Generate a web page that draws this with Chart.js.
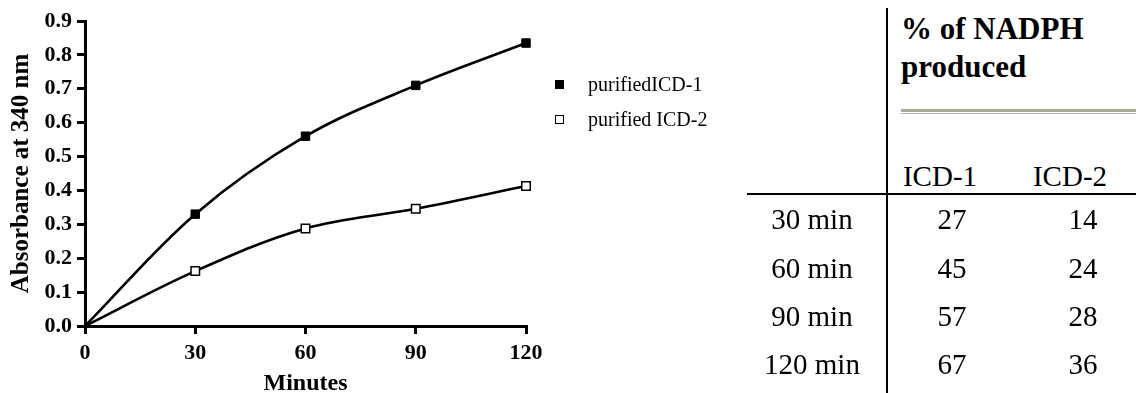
<!DOCTYPE html>
<html>
<head>
<meta charset="utf-8">
<script src="https://cdn.jsdelivr.net/npm/chart.js@4/dist/chart.umd.min.js"></script>
<style>
  html, body { margin: 0; padding: 0; background: #fff; }
  body { width: 1136px; height: 393px; position: relative; overflow: hidden;
         font-family: 'Times New Roman', 'Liberation Serif', serif; color: #000; }
  #chartBox { position: absolute; left: 0; top: 0; width: 740px; height: 393px; }
  .abs { position: absolute; white-space: nowrap; line-height: 1; }
  .mk { position: absolute; width: 9px; height: 9px; box-sizing: border-box; border: 1.5px solid #000; }
  .line { position: absolute; }
</style>
</head>
<body>
<div id="chartBox"><canvas id="c" width="740" height="393"></canvas></div>
<div id="legend"></div>
<div id="table"></div>
<script>
// ---- chart data ----
const minutes = [0, 30, 60, 90, 120];
const icd1Abs = [0, 0.33, 0.56, 0.71, 0.835];
const icd2Abs = [0, 0.162, 0.288, 0.346, 0.413];
const seriesNames = ['purifiedICD-1', 'purified ICD-2'];
const xTicks = [0, 30, 60, 90, 120];
const yTicks = [0, 0.1, 0.2, 0.3, 0.4, 0.5, 0.6, 0.7, 0.8, 0.9];

// ---- table data ----
const tableTitle = ['% of NADPH', 'produced'];
const tableCols = ['ICD-1', 'ICD-2'];
const tableRows = ['30 min', '60 min', '90 min', '120 min'];
const pctICD1 = [27, 45, 57, 67];
const pctICD2 = [14, 24, 28, 36];

const FONT = "'Times New Roman', 'Liberation Serif', serif";

const toXY = (ys) => minutes.map((m, i) => ({x: m, y: ys[i]}));
const radii = minutes.map(m => m === 0 ? 0 : 6);

new Chart(document.getElementById('c'), {
  type: 'line',
  data: {
    datasets: [
      { label: seriesNames[0], data: toXY(icd1Abs), borderColor: '#000', borderWidth: 2.6,
        tension: 0.35, pointStyle: 'rect', pointRadius: radii,
        pointBackgroundColor: '#000', pointBorderColor: '#000', pointBorderWidth: 1, clip: false },
      { label: seriesNames[1], data: toXY(icd2Abs), borderColor: '#000', borderWidth: 2.6,
        tension: 0.35, pointStyle: 'rect', pointRadius: radii,
        pointBackgroundColor: '#fff', pointBorderColor: '#000', pointBorderWidth: 1.5, clip: false }
    ]
  },
  options: {
    responsive: false, animation: false, devicePixelRatio: 1,
    layout: { padding: { left: 0, top: 21, right: 214, bottom: 0 } },
    plugins: { legend: { display: false }, tooltip: { enabled: false } },
    scales: {
      x: {
        type: 'linear', min: xTicks[0], max: xTicks[xTicks.length - 1],
        afterBuildTicks: s => { s.ticks = xTicks.map(v => ({value: v})); },
        afterFit: s => { s.height = 67; },
        ticks: { color: '#000', font: { family: FONT, size: 22, weight: 'bold' }, padding: 6, maxRotation: 0 },
        grid: { display: true, drawOnChartArea: false, drawTicks: true, tickLength: 8, lineWidth: 3, color: '#000' },
        border: { display: true, width: 3, color: '#000' },
        title: { display: true, text: 'Minutes', color: '#000',
                 font: { family: FONT, size: 24, weight: 'bold', lineHeight: 0.75 }, padding: { top: 0, bottom: 0 } }
      },
      y: {
        type: 'linear', min: yTicks[0], max: yTicks[yTicks.length - 1],
        afterBuildTicks: s => { s.ticks = yTicks.map(v => ({value: v})); },
        afterFit: s => { s.width = 85; },
        ticks: { color: '#000', font: { family: FONT, size: 22, weight: 'bold' }, padding: 5,
                 callback: v => Number(v).toFixed(1) },
        grid: { display: true, drawOnChartArea: false, drawTicks: true, tickLength: 8, lineWidth: 3, color: '#000' },
        border: { display: true, width: 3, color: '#000' },
        title: { display: true, text: 'Absorbance at 340 nm', color: '#000',
                 font: { family: FONT, size: 25, weight: 'bold', lineHeight: 1.2 }, padding: { top: 7, bottom: 0 } }
      }
    }
  }
});

// ---- HTML legend ----
const legend = document.getElementById('legend');
const legY = [84, 119];
seriesNames.forEach((name, i) => {
  const mk = document.createElement('div');
  mk.className = 'mk';
  mk.style.left = (559 - 4.5) + 'px';
  mk.style.top = (legY[i] - 4.5) + 'px';
  mk.style.background = i === 0 ? '#000' : '#fff';
  legend.appendChild(mk);
  const t = document.createElement('div');
  t.className = 'abs';
  t.style.fontSize = '20px';
  t.style.left = '588px';
  t.style.top = (legY[i] + 7 - 0.8375 * 20) + 'px';
  t.textContent = name;
  legend.appendChild(t);
});

// ---- table ----
const tbl = document.getElementById('table');
function txt(s, x, baseline, size, opts = {}) {
  const d = document.createElement('div');
  d.className = 'abs';
  d.style.fontSize = size + 'px';
  if (opts.bold) d.style.fontWeight = 'bold';
  d.style.top = (baseline - 0.8375 * size) + 'px';
  if (opts.center) { d.style.left = (x - 200) + 'px'; d.style.width = '400px'; d.style.textAlign = 'center'; }
  else d.style.left = x + 'px';
  d.textContent = s;
  tbl.appendChild(d);
}
function rule(l, t, w, h, c) {
  const d = document.createElement('div');
  d.className = 'line';
  Object.assign(d.style, { left: l + 'px', top: t + 'px', width: w + 'px', height: h + 'px', background: c });
  tbl.appendChild(d);
}
rule(886, 8, 2, 385, '#000');
rule(747, 193, 389, 2, '#000');
rule(901, 109, 235, 3, '#aba999');
rule(901, 113, 235, 1, '#b3b1a3');
txt(tableTitle[0], 901, 39, 31, { bold: true });
txt(tableTitle[1], 901, 77, 31, { bold: true });
txt(tableCols[0], 940, 186, 29, { center: true });
txt(tableCols[1], 1070, 186, 29, { center: true });
const rowBase = [229, 278, 326, 374];
tableRows.forEach((r, i) => {
  txt(r, 812, rowBase[i], 29, { center: true });
  txt(String(pctICD1[i]), 952, rowBase[i], 29, { center: true });
  txt(String(pctICD2[i]), 1083, rowBase[i], 29, { center: true });
});
</script>
</body>
</html>
